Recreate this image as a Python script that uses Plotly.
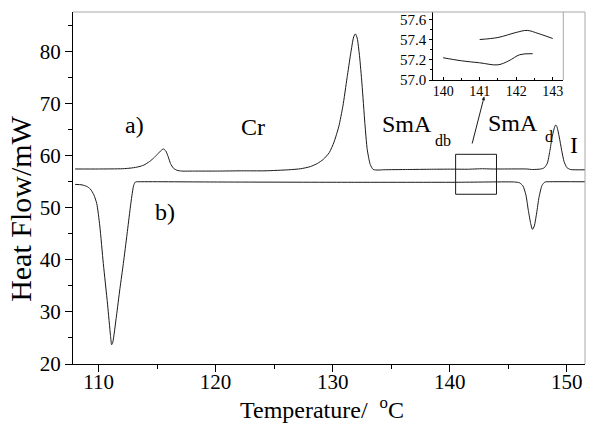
import plotly.graph_objects as go

# ---- data ----
# curve a) (heating), temperature in °C and heat flow in mW
temp_a = [108.0, 110.0, 112.04, 112.85, 113.46, 113.87, 114.37, 114.78, 115.08, 115.34, 115.54,
          115.75, 115.95, 116.15, 116.4, 116.71, 117.11, 118.13, 120.16, 122.19, 124.22, 126.25,
          127.27, 128.08, 128.69, 129.2, 129.71, 130.11, 130.52, 130.87, 131.23, 131.53, 131.79,
          131.94, 132.09, 132.29, 132.5, 132.75, 132.95, 133.21, 133.46, 133.87, 134.37, 136.4,
          138.43, 140.47, 141.48, 142.8, 143.51, 144.53, 146.56, 147.07, 147.78, 148.08, 148.34,
          148.54, 148.74, 148.95, 149.05, 149.15, 149.35, 149.56, 149.76, 150.01, 150.32, 151.55]
flow_a = [57.45, 57.45, 57.5, 57.65, 57.9, 58.2, 58.9, 59.7, 60.4, 61.0, 61.3,
          60.9, 59.8, 58.5, 57.6, 57.2, 57.05, 57.05, 57.05, 57.1, 57.1, 57.3,
          57.5, 57.9, 58.5, 59.3, 60.6, 62.6, 65.6, 69.5, 75.0, 79.5, 82.8,
          83.4, 82.6, 79.2, 73.8, 66.2, 61.2, 58.3, 57.35, 57.25, 57.3, 57.35,
          57.4, 57.42, 57.4, 57.5, 57.45, 57.45, 57.45, 57.35, 57.45, 57.7, 58.6,
          60.8, 63.5, 65.5, 65.9, 65.6, 63.6, 61.0, 58.9, 57.7, 57.35, 57.3]

# curve b) (cooling)
temp_b = [108.0, 108.59, 109.0, 109.3, 109.6, 109.85, 110.11, 110.41, 110.77, 111.02, 111.12,
          111.22, 111.53, 111.83, 112.12, 112.44, 112.7, 112.85, 113.0, 113.15, 113.56, 120.16,
          130.31, 140.47, 145.54, 145.95, 146.25, 146.5, 146.71, 146.91, 147.06, 147.22, 147.42,
          147.62, 147.88, 148.13, 148.49, 151.55]
flow_b = [54.5, 54.4, 54.1, 53.6, 52.5, 50.8, 46.5, 39.3, 31.5, 25.5, 23.7,
          24.2, 29.2, 34.5, 39.3, 45.0, 49.8, 52.3, 54.3, 54.95, 55.0, 54.95,
          54.9, 54.9, 54.95, 54.8, 54.2, 52.5, 49.5, 47.0, 45.85, 46.5, 49.0,
          52.0, 54.3, 54.95, 55.0, 55.0]

# inset (zoom of 140-143 °C)
inset_t1 = [140.0, 140.5, 141.0, 141.5, 141.8, 142.1, 142.45]
inset_f1 = [57.22, 57.19, 57.17, 57.15, 57.19, 57.25, 57.26]
inset_t2 = [141.0, 141.5, 142.0, 142.3, 142.6, 143.0]
inset_f2 = [57.40, 57.42, 57.47, 57.49, 57.46, 57.41]

x_ticks = [110, 120, 130, 140, 150]
y_ticks = [20, 30, 40, 50, 60, 70, 80]
inset_x_ticks = [140, 141, 142, 143]
inset_y_ticks = [57.0, 57.2, 57.4, 57.6]

FONT = "Liberation Serif, Times New Roman, serif"
LINE = dict(color="#1a1a1a", width=1)

fig = go.Figure()
fig.add_trace(go.Scatter(x=temp_a, y=flow_a, mode="lines", line=dict(**LINE, shape="spline", smoothing=0.6),
                         showlegend=False, hoverinfo="skip"))
fig.add_trace(go.Scatter(x=temp_b, y=flow_b, mode="lines", line=dict(**LINE, shape="spline", smoothing=0.6),
                         showlegend=False, hoverinfo="skip"))
fig.add_trace(go.Scatter(x=inset_t1, y=inset_f1, mode="lines", line=dict(**LINE, shape="spline"),
                         xaxis="x2", yaxis="y2", showlegend=False, hoverinfo="skip"))
fig.add_trace(go.Scatter(x=inset_t2, y=inset_f2, mode="lines", line=dict(**LINE, shape="spline"),
                         xaxis="x2", yaxis="y2", showlegend=False, hoverinfo="skip"))

fig.update_layout(
    width=592, height=423,
    margin=dict(l=73, r=7, t=12, b=59, autoexpand=False),
    paper_bgcolor="white", plot_bgcolor="white",
    font=dict(family=FONT, color="black", size=20),
    xaxis=dict(range=[107.82, 151.55], tickvals=x_ticks, showgrid=False, zeroline=False, automargin=False,
               showline=True, linecolor="black", linewidth=1, ticks="outside", ticklen=7,
               tickcolor="black", tickfont=dict(size=21, family=FONT), ticklabelstandoff=-8,
               minor=dict(dtick=5, tick0=0, ticks="outside", ticklen=4, tickcolor="black")),
    yaxis=dict(range=[20, 87.6], tickvals=y_ticks, showgrid=False, zeroline=False, automargin=False,
               showline=True, linecolor="black", linewidth=1, ticks="outside", ticklen=7,
               tickcolor="black", tickfont=dict(size=21, family=FONT),
               minor=dict(dtick=5, tick0=0, ticks="outside", ticklen=4, tickcolor="black")),
    xaxis2=dict(domain=[0.7037, 0.9576], anchor="y2", range=[139.73, 143.29], tickvals=inset_x_ticks,
                automargin=False,
                showgrid=False, zeroline=False, showline=True, linecolor="black", linewidth=1,
                ticks="inside", ticklen=3, tickcolor="black", tickfont=dict(size=14, family=FONT),
                ticklabelstandoff=-2,
                minor=dict(dtick=0.5, tick0=0, ticks="inside", ticklen=2, tickcolor="black")),
    yaxis2=dict(domain=[0.8068, 1.0], anchor="x2", range=[57.0, 57.672], tickvals=inset_y_ticks,
                automargin=False,
                tickformat=".1f", showgrid=False, zeroline=False, showline=True, linecolor="black",
                linewidth=1, ticks="outside", ticklen=3, tickcolor="black", tickfont=dict(size=15, family=FONT),
                minor=dict(dtick=0.1, tick0=0, ticks="outside", ticklen=2, tickcolor="black")),
)

shapes = [
    # gray top / right frame of main plot
    dict(type="line", xref="paper", yref="paper", x0=0, x1=1, y0=1, y1=1, line=dict(color="#a8a8a8", width=1)),
    dict(type="line", xref="paper", yref="paper", x0=1, x1=1, y0=0, y1=1, line=dict(color="#a8a8a8", width=1)),
    # gray right frame of inset
    dict(type="line", xref="paper", yref="paper", x0=0.9576, x1=0.9576, y0=0.8068, y1=1,
         line=dict(color="#a8a8a8", width=1)),
    # zoom box
    dict(type="rect", xref="x", yref="y", x0=140.5, x1=143.99, y0=52.6, y1=60.27,
         line=dict(color="#1a1a1a", width=1)),
]
fig.update_layout(shapes=shapes)

ann = []
def lab(text, x, y, size=24):
    ann.append(dict(text=text, x=x, y=y, xref="x", yref="y", showarrow=False,
                    xanchor="center", yanchor="middle",
                    font=dict(size=size, family=FONT, color="black")))

lab("a)", 113.05, 65.9)
lab("b)", 115.69, 49.1)
lab("Cr", 123.18, 65.6)
lab("SmA", 136.37, 66.0)
lab("db", 139.4, 63.0, size=16)
lab("SmA", 145.43, 66.3)
lab("d", 148.5, 63.6, size=16)
lab("I", 150.62, 62.1)

# arrow from zoom box to inset
ann.append(dict(x=142.94, y=71.35, ax=141.88, ay=62.06, xref="x", yref="y", axref="x", ayref="y",
                showarrow=True, arrowhead=2, arrowsize=0.7, arrowwidth=1, arrowcolor="#1a1a1a", text=""))

# axis titles
ann.append(dict(text="Heat Flow/mW", xref="paper", yref="paper", x=-0.104, y=0.44,
                xanchor="center", yanchor="middle",
                textangle=-90, showarrow=False, font=dict(size=30, family=FONT, color="black")))
ann.append(dict(text="Temperature/  <sup>o</sup>C", xref="paper", yref="paper", x=0.486, y=-0.126,
                xanchor="center", yanchor="middle",
                showarrow=False, font=dict(size=24, family=FONT, color="black")))
fig.update_layout(annotations=ann)

fig.write_html("out.html", config={"displayModeBar": False},
               post_script="document.body.style.margin='0';document.body.style.padding='0';")
